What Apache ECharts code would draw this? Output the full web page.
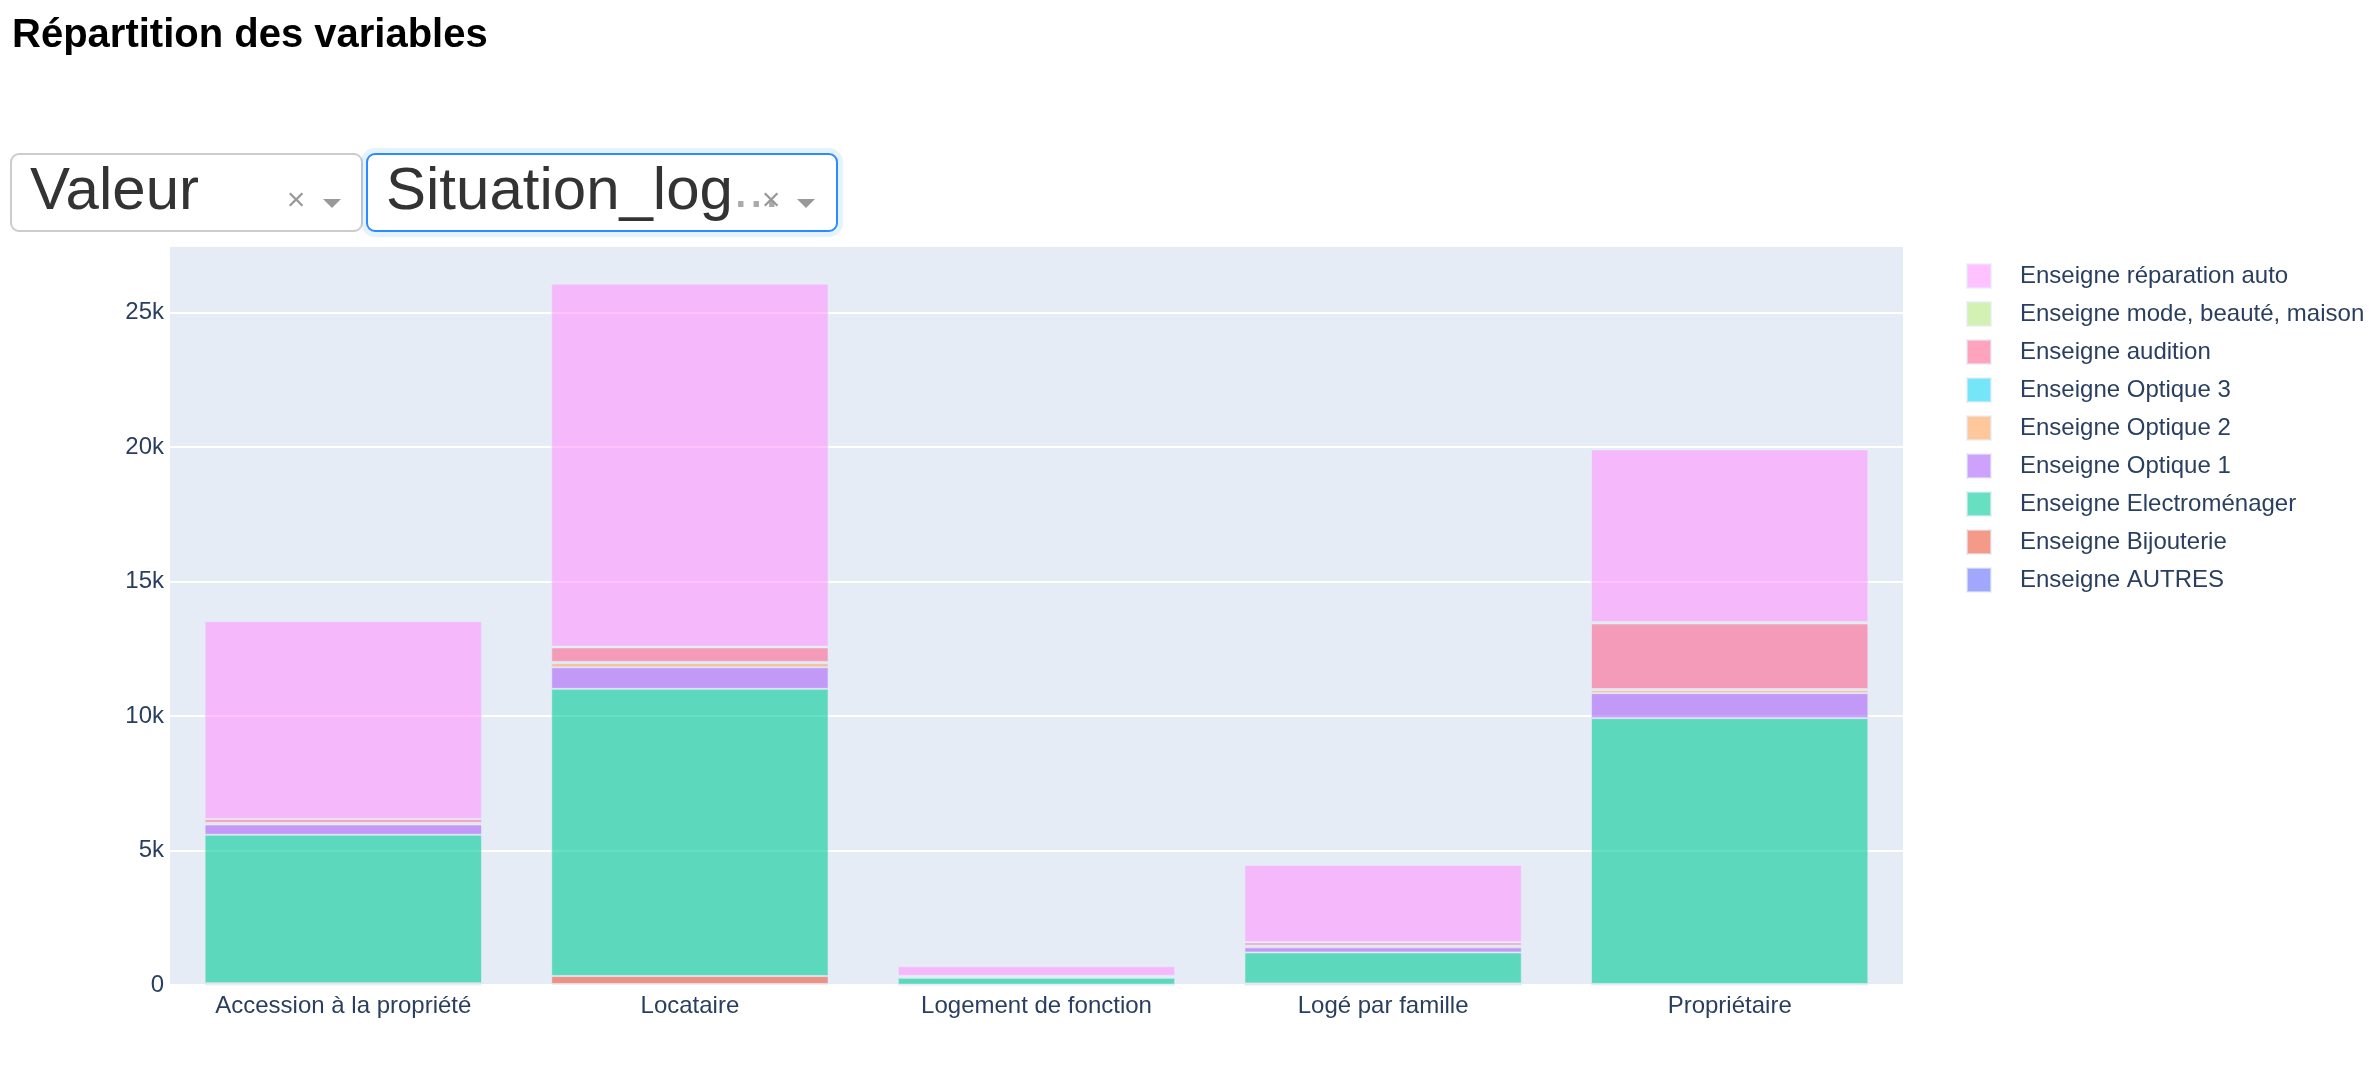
<!DOCTYPE html>
<html>
<head>
<meta charset="utf-8">
<script src="https://cdn.jsdelivr.net/npm/echarts@6/dist/echarts.min.js"></script>
<style>
html,body{margin:0;padding:0;background:#fff;}
#chart{width:2380px;height:1080px;}
</style>
</head>
<body>
<div id="chart"></div>
<script>
const categories = ['Accession à la propriété', 'Locataire', 'Logement de fonction', 'Logé par famille', 'Propriétaire'];
const seriesNames = ['Enseigne AUTRES', 'Enseigne Bijouterie', 'Enseigne Electroménager', 'Enseigne Optique 1', 'Enseigne Optique 2', 'Enseigne Optique 3', 'Enseigne audition', 'Enseigne mode, beauté, maison', 'Enseigne réparation auto'];
const autres = [15, 40, 5, 10, 10];
const bijouterie = [50, 290, 10, 50, 30];
const electromenager = [5520, 10680, 250, 1150, 9880];
const optique1 = [380, 800, 40, 190, 930];
const optique2 = [60, 150, 10, 60, 110];
const optique3 = [10, 50, 5, 10, 40];
const audition = [130, 540, 20, 110, 2440];
const modeBeauteMaison = [10, 30, 5, 15, 50];
const reparationAuto = [7350, 13490, 350, 2865, 6420];
const yTicks = [0, 5000, 10000, 15000, 20000, 25000];
const dropdownLabels = ['Valeur', 'Situation_log'];

const values = [autres, bijouterie, electromenager, optique1, optique2, optique3, audition, modeBeauteMaison, reparationAuto];
const colors = ['rgba(99,110,250,0.6)', 'rgba(239,85,59,0.6)', 'rgba(0,204,150,0.6)', 'rgba(171,99,250,0.6)', 'rgba(255,161,90,0.6)', 'rgba(25,211,243,0.6)', 'rgba(255,102,146,0.6)', 'rgba(182,232,128,0.6)', 'rgba(255,151,255,0.6)'];

const FONT = '"Liberation Sans", Arial, Helvetica, sans-serif';
const chart = echarts.init(document.getElementById('chart'), null, {renderer: 'canvas'});

const series = seriesNames.map((name, i) => ({
  name: name,
  type: 'bar',
  stack: 'total',
  data: values[i],
  barCategoryGap: '20%',
  itemStyle: { color: colors[i], borderColor: 'rgba(229,236,246,0.6)', borderWidth: 1 },
  emphasis: { disabled: true }
}));

chart.setOption({
  animation: false,
  textStyle: { fontFamily: FONT },
  grid: { left: 170, right: 477, top: 246, bottom: 95, show: true, backgroundColor: '#E5ECF6', borderWidth: 0 },
  legend: {
    orient: 'vertical',
    left: 1966,
    top: 263,
    padding: 0,
    itemWidth: 24,
    itemHeight: 24,
    itemGap: 12,
    icon: 'rect',
    data: seriesNames.slice().reverse(),
    textStyle: { fontSize: 24, color: '#2a3f5f', fontFamily: FONT, padding: [0, 0, 0, 24] }
  },
  xAxis: {
    type: 'category',
    data: categories,
    axisLine: { show: false },
    axisTick: { show: false },
    axisLabel: { fontSize: 24, color: '#2a3f5f', margin: 9, fontFamily: FONT }
  },
  yAxis: {
    type: 'value',
    min: 0,
    max: 27472,
    interval: 5000,
    axisLine: { show: false },
    axisTick: { show: false },
    splitLine: { lineStyle: { color: '#ffffff', width: 2 } },
    axisLabel: {
      fontSize: 24, color: '#2a3f5f', margin: 6, fontFamily: FONT,
      formatter: function (v) {
        if (yTicks.indexOf(v) < 0) return '';
        return v === 0 ? '0' : (v / 1000) + 'k';
      }
    }
  },
  graphic: [
    { type: 'text', x: 12, y: 36, style: { text: 'Répartition des variables', font: 'bold 40px ' + FONT, fill: '#000', verticalAlign: 'middle' } },
    { type: 'rect', shape: { x: 11, y: 154, width: 351, height: 77, r: 8 }, style: { fill: '#fff', stroke: '#cccccc', lineWidth: 2 } },
    { type: 'rect', shape: { x: 367, y: 154, width: 470, height: 77, r: 8 }, style: { fill: 'none', stroke: 'rgba(0,126,255,0.1)', lineWidth: 12 } },
    { type: 'rect', shape: { x: 367, y: 154, width: 470, height: 77, r: 8 }, style: { fill: '#fff', stroke: '#2b8cff', lineWidth: 2 } },
    { type: 'text', x: 30, y: 192, style: { text: dropdownLabels[0], font: '60px ' + FONT, fill: '#333333', verticalAlign: 'middle' } },
    { type: 'text', x: 386, y: 192, style: { text: dropdownLabels[1], font: '60px ' + FONT, fill: '#333333', verticalAlign: 'middle' } },
    { type: 'text', x: 733, y: 192, style: { text: '...', font: '56px ' + FONT, fill: '#aaaaaa', verticalAlign: 'middle' } },
    { type: 'text', x: 296, y: 201, style: { text: '×', font: '32px ' + FONT, fill: '#999999', align: 'center', verticalAlign: 'middle' } },
    { type: 'text', x: 771, y: 201, style: { text: '×', font: '32px ' + FONT, fill: '#999999', align: 'center', verticalAlign: 'middle' } },
    { type: 'polygon', shape: { points: [[323, 199], [341, 199], [332, 208]] }, style: { fill: '#999999' } },
    { type: 'polygon', shape: { points: [[797, 199], [815, 199], [806, 208]] }, style: { fill: '#999999' } }
  ],
  series: series
});
</script>
</body>
</html>
